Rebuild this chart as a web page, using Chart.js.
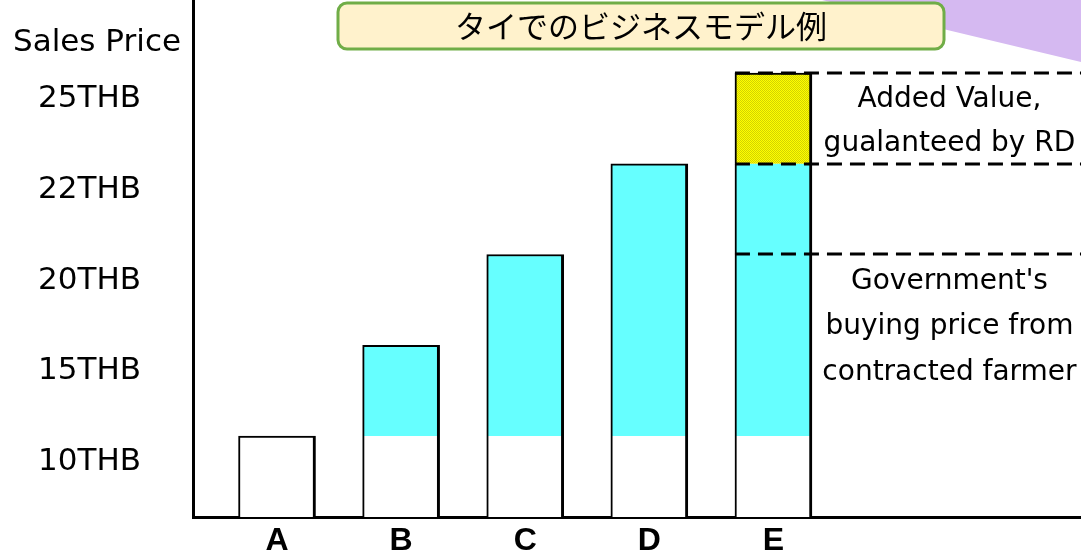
<!DOCTYPE html>
<html>
<head>
<meta charset="utf-8">
<script src="https://cdn.jsdelivr.net/npm/chart.js@4.4.1/dist/chart.umd.min.js"></script>
<style>
html, body { margin: 0; padding: 0; background: #fff; }
canvas { display: block; }
</style>
</head>
<body>
<canvas id="bar-chart" width="1081" height="555"></canvas>
<script>
var categories = ["A", "B", "C", "D", "E"];
var priceLabels = ["10THB", "15THB", "20THB", "22THB", "25THB"];
var priceLevels = [1, 2, 3, 4, 5];           // place of each price on the axis
var baseValues = [1, 1, 1, 1, 1];            // white part (10THB)
var govValues = [null, 1, 2, 3, 3];          // cyan part on top of base
var addedValues = [null, null, null, null, 1]; // yellow part
var guideLevels = [3, 4, 5];                 // dashed lines from bar E
var axisTitle = "Sales Price";
var chartTitle = "タイでのビジネスモデル例";
var addedNote = ["Added Value,", "gualanteed by RD"];
var govNote = ["Government's", "buying price from", "contracted farmer"];

var canvas = document.getElementById("bar-chart");
var ctx = canvas.getContext("2d");

// dotted yellow fill
var pc = document.createElement("canvas");
pc.width = 2; pc.height = 2;
var p = pc.getContext("2d");
p.fillStyle = "#ffff00"; p.fillRect(0, 0, 2, 2);
p.fillStyle = "#d2d200"; p.fillRect(0, 0, 1, 1); p.fillRect(1, 1, 1, 1);
var yellowFill = ctx.createPattern(pc, "repeat");

function points(values) {
  return values.map(function (v, i) { return { x: i + 1, y: v }; });
}

var textFont = "'DejaVu Sans', sans-serif";

var extras = {
  id: "extras",
  beforeDraw: function (chart) {
    var c = chart.ctx;
    c.save();
    c.fillStyle = "#d5b9f1";
    c.beginPath();
    c.moveTo(822, 0);
    c.lineTo(chart.width, 62);
    c.lineTo(chart.width, 0);
    c.closePath();
    c.fill();
    c.restore();
  },
  afterDraw: function (chart) {
    var c = chart.ctx;
    var y = chart.scales.y;
    var area = chart.chartArea;
    var meta = chart.getDatasetMeta(0);
    var lastBar = meta.data[meta.data.length - 1];
    var barLeft = lastBar.x - lastBar.width / 2;
    var barRight = lastBar.x + lastBar.width / 2;
    c.save();

    // dashed guides
    c.strokeStyle = "#000";
    c.lineWidth = 3;
    c.setLineDash([15, 8]);
    guideLevels.forEach(function (lv) {
      var py = Math.round(y.getPixelForValue(lv));
      c.beginPath();
      c.moveTo(barLeft, py);
      c.lineTo(area.right, py);
      c.stroke();
    });
    c.setLineDash([]);

    // notes right of bar E
    var cx = (barRight + area.right) / 2 + 3;
    c.fillStyle = "#000";
    c.font = "28px " + textFont;
    c.textAlign = "center";
    c.textBaseline = "middle";
    var mid = (y.getPixelForValue(4) + y.getPixelForValue(5)) / 2 + 3;
    addedNote.forEach(function (t, i) {
      c.fillText(t, cx, mid + (i - 0.5) * 44);
    });
    var top = y.getPixelForValue(3) + 27;
    govNote.forEach(function (t, i) {
      c.fillText(t, cx, top + i * 45.5);
    });

    // axis title
    c.font = "31px " + textFont;
    c.fillText(axisTitle, 97, 43);

    // title box
    c.beginPath();
    c.roundRect(338, 3, 606, 46, 9);
    c.fillStyle = "#fff2cc";
    c.fill();
    c.lineWidth = 3;
    c.strokeStyle = "#70ad47";
    c.stroke();
    c.fillStyle = "#000";
    c.font = "31px 'Noto Sans CJK JP', sans-serif";
    c.fillText(chartTitle, 641, 26);
    c.restore();
  }
};

var chart = new Chart(ctx, {
  type: "bar",
  data: {
    datasets: [
      {
        label: "base",
        data: points(baseValues),
        backgroundColor: "#ffffff",
        borderColor: "#000",
        borderSkipped: false,
        borderWidth: function (c) {
          var top = govValues[c.dataIndex] ? 0 : 2;
          return { left: 2, right: 3, top: top, bottom: 0 };
        }
      },
      {
        label: "government",
        data: points(govValues),
        backgroundColor: "#66ffff",
        borderColor: "#000",
        borderSkipped: false,
        borderWidth: function (c) {
          var top = addedValues[c.dataIndex] ? 0 : 2;
          return { left: 2, right: 3, top: top, bottom: 0 };
        }
      },
      {
        label: "added",
        data: points(addedValues),
        backgroundColor: yellowFill,
        borderColor: "#000",
        borderSkipped: false,
        borderWidth: { left: 2, right: 3, top: 2, bottom: 0 }
      }
    ]
  },
  options: {
    responsive: false,
    animation: false,
    devicePixelRatio: 1,
    layout: { padding: 0 },
    datasets: { bar: { barThickness: 77 } },
    plugins: {
      legend: { display: false },
      tooltip: { enabled: false }
    },
    scales: {
      x: {
        type: "linear",
        stacked: true,
        offset: false,
        min: 0.323,
        max: 7.478,
        z: 1,
        grid: { display: false },
        border: { color: "#000", width: 3 },
        afterBuildTicks: function (s) {
          s.ticks = categories.map(function (c, i) { return { value: i + 1 }; });
        },
        afterFit: function (s) {
          s.height = 38;
          s.paddingLeft = 0;
          s.paddingRight = 0;
        },
        ticks: {
          autoSkip: false,
          maxRotation: 0,
          padding: -3,
          color: "#000",
          font: { family: "'Liberation Sans', Arial, sans-serif", size: 32, weight: "bold" },
          callback: function (v, i) { return categories[i]; }
        }
      },
      y: {
        stacked: true,
        min: 0.107,
        max: 5.804,
        z: 1,
        grid: { display: false },
        border: { color: "#000", width: 3 },
        afterBuildTicks: function (s) {
          s.ticks = priceLevels.map(function (v) { return { value: v }; });
        },
        afterFit: function (s) {
          s.width = 193;
          s.paddingTop = 0;
          s.paddingBottom = 0;
        },
        ticks: {
          autoSkip: false,
          padding: 44,
          crossAlign: "center",
          labelOffset: 26,
          color: "#000",
          font: { family: "'DejaVu Sans', sans-serif", size: 31 },
          callback: function (v, i) { return priceLabels[i]; }
        }
      }
    }
  },
  plugins: [extras]
});
</script>
</body>
</html>
